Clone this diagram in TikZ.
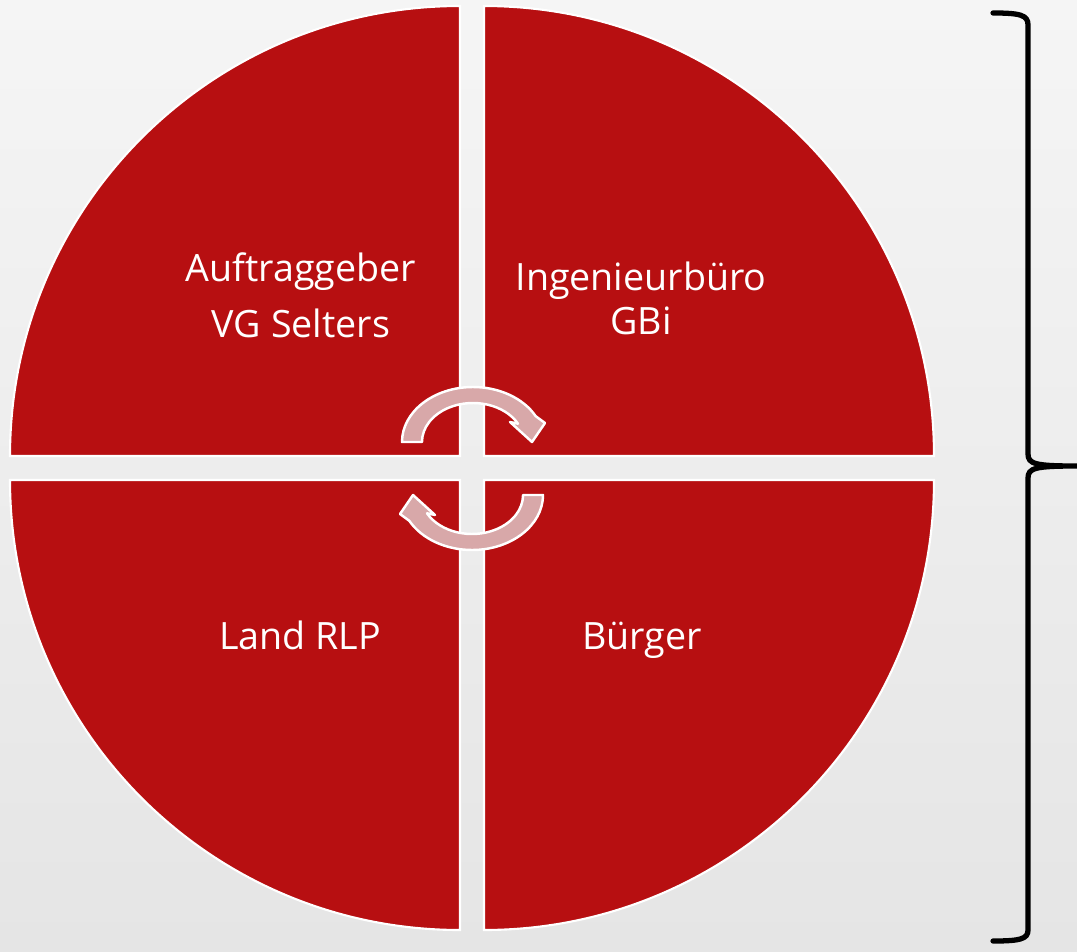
\documentclass[tikz,border=0pt]{standalone}
\usepackage{fontspec}
\setmainfont{Open Sans}
\usepackage{xcolor}
\usepackage{tikz}
\usetikzlibrary{shapes,arrows,positioning,calc}

\definecolor{gbred}{RGB}{183,15,17}
\definecolor{gbpink}{RGB}{216,168,169}
\definecolor{bgtop}{RGB}{245,245,245}
\definecolor{bgbot}{RGB}{229,229,229}

\begin{document}
\begin{tikzpicture}[x=0.01cm,y=0.01cm,
  quad/.style={fill=gbred,draw=white,line width=0.6pt},
  cyc/.style={fill=gbpink,draw=white,line width=0.7pt,line join=round},
  lbl/.style={text=white,align=center,font=\fontsize{10.7}{15.9}\selectfont},
  brace/.style={draw=black,line width=1.5pt,line cap=round}]
\useasboundingbox (0,0) rectangle (1077,951);
\shade[top color=bgtop,bottom color=bgbot] (0,0) rectangle (1077,951);

% Quadrants
\draw[quad] (460,495) -- (10,495) arc[start angle=180,end angle=90,radius=450] -- cycle;
\draw[quad] (484,495) -- (484,945) arc[start angle=90,end angle=0,radius=450] -- cycle;
\draw[quad] (460,471) -- (460,21) arc[start angle=270,end angle=180,radius=450] -- cycle;
\draw[quad] (484,471) -- (934,471) arc[start angle=0,end angle=-90,radius=450] -- cycle;

\node[lbl] (ag) at (301,656) {Auftraggeber\\VG Selters};
\node[lbl] (ib) at (641,653) {Ingenieurbüro\\[-3.4pt]GBi};
\node[lbl,anchor=base] (rlp) at (300,302) {Land RLP};
\node[lbl,anchor=base] (bg) at (642,302) {Bürger};

% Circular arrows
\draw[cyc] (402,509) arc[start angle=180,end angle=28,x radius=71,y radius=55]
  -- (545,528) -- (532,509) -- (510,529) -- (518,527.3)
  arc[start angle=28,end angle=180,x radius=51,y radius=39] -- cycle;
\draw[cyc,rotate around={180:(472.5,482.5)}] (402,509) arc[start angle=180,end angle=28,x radius=71,y radius=55]
  -- (545,528) -- (532,509) -- (510,529) -- (518,527.3)
  arc[start angle=28,end angle=180,x radius=51,y radius=39] -- cycle;

% Brace
\draw[brace] (993,938) .. controls (1020,938) and (1028,936) .. (1028,926) -- (1028,497)
  .. controls (1028,487) and (1035,485) .. (1077,485)
  .. controls (1035,485) and (1028,483) .. (1028,473) -- (1028,21)
  .. controls (1028,12) and (1020,10) .. (993,10);
\end{tikzpicture}
\end{document}
